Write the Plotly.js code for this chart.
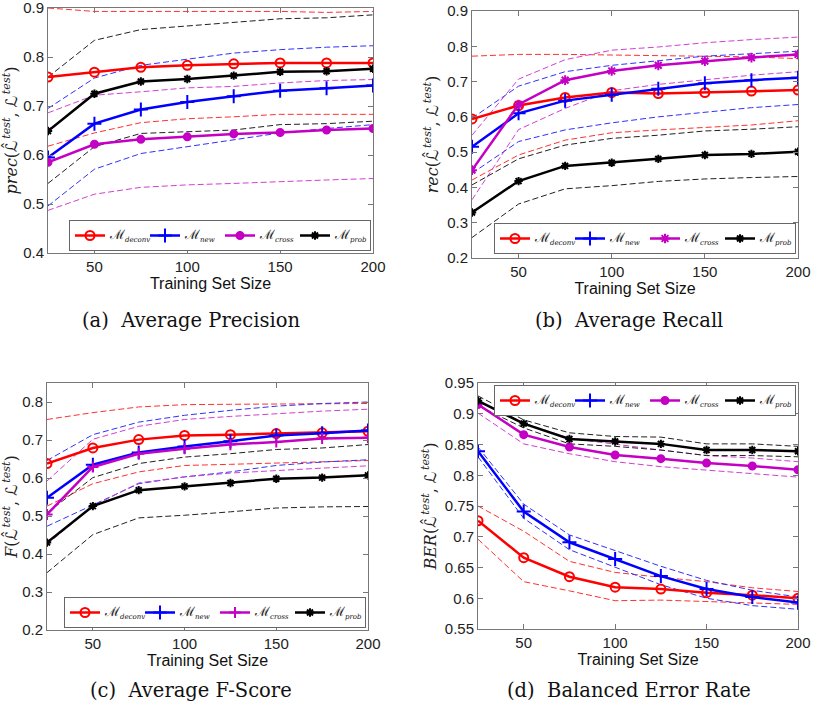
<!DOCTYPE html>
<html>
<head>
<meta charset="utf-8">
<script src="https://cdn.plot.ly/plotly-3.0.1.min.js"></script>
<style>html,body{margin:0;padding:0;background:#fff;}#chart{width:813px;height:706px;}</style>
</head>
<body>
<div id="chart"></div>
<script>
// ---------- DATA ----------
const trainingSizes = [25, 50, 75, 100, 125, 150, 175, 200];
const xTickVals = [50, 100, 150, 200];

// (a) Average Precision
const precDeconv   = [0.759,0.769,0.779,0.783,0.786,0.788,0.788,0.788];
const precDeconvHi = [0.900,0.893,0.893,0.893,0.893,0.893,0.891,0.893];
const precDeconvLo = [0.618,0.645,0.666,0.674,0.678,0.683,0.683,0.683];
const precNew      = [0.595,0.664,0.693,0.708,0.720,0.731,0.736,0.742];
const precNewHi    = [0.695,0.757,0.783,0.796,0.808,0.815,0.820,0.823];
const precNewLo    = [0.496,0.571,0.603,0.617,0.632,0.645,0.654,0.662];
const precCross    = [0.585,0.622,0.632,0.637,0.643,0.646,0.651,0.654];
const precCrossHi  = [0.686,0.722,0.729,0.737,0.740,0.747,0.752,0.754];
const precCrossLo  = [0.487,0.520,0.534,0.539,0.542,0.546,0.549,0.552];
const precProb     = [0.649,0.725,0.750,0.755,0.762,0.770,0.771,0.776];
const precProbHi   = [0.759,0.834,0.856,0.863,0.871,0.878,0.880,0.886];
const precProbLo   = [0.542,0.617,0.644,0.647,0.651,0.662,0.664,0.669];

// (b) Average Recall
const recDeconv   = [0.594,0.632,0.655,0.669,0.666,0.669,0.673,0.676];
const recDeconvHi = [0.772,0.777,0.777,0.775,0.773,0.772,0.770,0.765];
const recDeconvLo = [0.421,0.492,0.534,0.555,0.563,0.569,0.577,0.589];
const recNew      = [0.515,0.610,0.646,0.663,0.680,0.695,0.704,0.711];
const recNewHi    = [0.596,0.687,0.728,0.746,0.759,0.772,0.779,0.786];
const recNewLo    = [0.440,0.530,0.563,0.583,0.600,0.614,0.626,0.635];
const recCross    = [0.449,0.635,0.704,0.730,0.746,0.758,0.768,0.777];
const recCrossHi  = [0.548,0.707,0.762,0.789,0.798,0.810,0.819,0.826];
const recCrossLo  = [0.365,0.564,0.624,0.674,0.692,0.706,0.718,0.728];
const recProb     = [0.329,0.418,0.461,0.470,0.481,0.492,0.495,0.501];
const recProbHi   = [0.407,0.481,0.520,0.539,0.548,0.560,0.565,0.572];
const recProbLo   = [0.258,0.353,0.396,0.405,0.417,0.424,0.428,0.431];

// (c) Average F-Score
const fDeconv   = [0.638,0.679,0.701,0.712,0.714,0.717,0.719,0.723];
const fDeconvHi = [0.754,0.772,0.787,0.793,0.794,0.795,0.796,0.796];
const fDeconvLo = [0.526,0.585,0.616,0.633,0.636,0.639,0.642,0.646];
const fNew      = [0.548,0.635,0.667,0.683,0.697,0.712,0.718,0.725];
const fNewHi    = [0.646,0.714,0.747,0.765,0.778,0.789,0.796,0.800];
const fNewLo    = [0.473,0.530,0.585,0.603,0.616,0.633,0.642,0.648];
const fCross    = [0.504,0.629,0.664,0.677,0.688,0.695,0.704,0.706];
const fCrossHi  = [0.592,0.702,0.736,0.754,0.762,0.769,0.776,0.781];
const fCrossLo  = [0.425,0.526,0.587,0.603,0.613,0.620,0.626,0.632];
const fProb     = [0.430,0.526,0.568,0.578,0.587,0.598,0.601,0.607];
const fProbHi   = [0.508,0.601,0.638,0.655,0.664,0.675,0.679,0.688];
const fProbLo   = [0.351,0.451,0.495,0.502,0.511,0.521,0.524,0.525];

// (d) Balanced Error Rate
const berDeconv   = [0.726,0.666,0.635,0.618,0.615,0.609,0.605,0.600];
const berDeconvHi = [0.750,0.709,0.660,0.642,0.634,0.627,0.617,0.611];
const berDeconvLo = [0.696,0.627,0.612,0.596,0.597,0.595,0.592,0.590];
const berNew      = [0.839,0.741,0.691,0.664,0.636,0.615,0.602,0.593];
const berNewHi    = [0.846,0.753,0.703,0.677,0.652,0.629,0.613,0.602];
const berNewLo    = [0.830,0.730,0.679,0.650,0.622,0.600,0.588,0.582];
const berCross    = [0.915,0.866,0.846,0.833,0.827,0.820,0.815,0.809];
const berCrossHi  = [0.920,0.885,0.860,0.850,0.841,0.832,0.828,0.822];
const berCrossLo  = [0.901,0.851,0.835,0.822,0.814,0.808,0.803,0.797];
const berProb     = [0.921,0.884,0.859,0.855,0.851,0.841,0.841,0.839];
const berProbHi   = [0.929,0.890,0.869,0.863,0.862,0.851,0.851,0.847];
const berProbLo   = [0.913,0.877,0.851,0.847,0.841,0.832,0.832,0.830];

const M = '<span style="font-size:13px">ℳ</span>';
const methodNames = [M + '<sub><i>deconv</i></sub>', M + '<sub><i>new</i></sub>', M + '<sub><i>cross</i></sub>', M + '<sub><i>prob</i></sub>'];
const captions = ['(a)  Average Precision','(b)  Average Recall','(c)  Average F-Score','(d)  Balanced Error Rate'];
const L = '<span style="font-family:DejaVu Sans">ℒ</span>';
const Lhat = '<span style="font-family:DejaVu Sans">ℒ̂</span>';
const argText = '(' + Lhat + '\u200A<sup><i>test</i></sup>, ' + L + '\u200A<sup><i>test</i></sup>)';
const yTitles = ['<i>prec</i>' + argText, '<i>rec</i>' + argText, '<i>F</i>' + argText, '<i>BER</i>' + argText];

// ---------- STYLES ----------
const colors = ['#ff0000','#0000ff','#c400c4','#000000'];
const dashColors = ['#ff3030','#3030ff','#d040d0','#202020'];
const panels = [
  {series:[[precDeconv,precDeconvHi,precDeconvLo],[precNew,precNewHi,precNewLo],[precCross,precCrossHi,precCrossLo],[precProb,precProbHi,precProbLo]],
   crossSym:'circle'},
  {series:[[recDeconv,recDeconvHi,recDeconvLo],[recNew,recNewHi,recNewLo],[recCross,recCrossHi,recCrossLo],[recProb,recProbHi,recProbLo]],
   crossSym:'asterisk-open'},
  {series:[[fDeconv,fDeconvHi,fDeconvLo],[fNew,fNewHi,fNewLo],[fCross,fCrossHi,fCrossLo],[fProb,fProbHi,fProbLo]],
   crossSym:'cross-thin-open'},
  {series:[[berDeconv,berDeconvHi,berDeconvLo],[berNew,berNewHi,berNewLo],[berCross,berCrossHi,berCrossLo],[berProb,berProbHi,berProbLo]],
   crossSym:'circle'}
];
const W = 813, H = 706;
// pixel boxes [left,right,top,bottom]
const boxes = [[48,373,8,253],[472,798,11,258],[47,368,383,630],[478,798,383,629]];
const yRanges = [[0.4,0.9],[0.2,0.9],[0.2,0.85],[0.55,0.95]];
const yTicks = [[0.4,0.5,0.6,0.7,0.8,0.9],[0.2,0.3,0.4,0.5,0.6,0.7,0.8,0.9],[0.2,0.3,0.4,0.5,0.6,0.7,0.8],[0.55,0.6,0.65,0.7,0.75,0.8,0.85,0.9,0.95]];
const legendBoxes = [[371,251],[796,254],[366,628],[796,385]]; // right x, anchor y
const legendAnchorY = ['bottom','bottom','bottom','top'];

const traces = [];
const layout = {
  width: W, height: H, margin:{l:0,r:0,t:0,b:0, autoexpand:false},
  paper_bgcolor:'#fff', plot_bgcolor:'#fff',
  font:{family:'Liberation Sans, Arial, sans-serif', size:14, color:'#222'},
  annotations: [], showlegend: true
};

panels.forEach((p, i) => {
  const ax = i === 0 ? '' : String(i+1);
  const xa = 'x' + ax, ya = 'y' + ax;
  const legendId = i === 0 ? 'legend' : 'legend' + (i+1);
  // dashed bands
  p.series.forEach((s, k) => {
    [1,2].forEach(j => {
      traces.push({x: trainingSizes, y: s[j], xaxis: xa, yaxis: ya, mode:'lines', type:'scatter',
        line:{color: dashColors[k], width:1, dash:'6px,3px'}, showlegend:false, hoverinfo:'skip', legend: legendId});
    });
  });
  // solid series
  const syms = ['circle-open','cross-thin-open', p.crossSym, 'asterisk-open'];
  const sizes = [9, 10, p.crossSym === 'circle' ? 7 : 8, 7];
  p.series.forEach((s, k) => {
    traces.push({x: trainingSizes, y: s[0], xaxis: xa, yaxis: ya, mode:'lines+markers', type:'scatter',
      name: methodNames[k], legend: legendId,
      line:{color: colors[k], width:2.5},
      marker:{symbol: syms[k], size: sizes[k], color: colors[k], line:{color: colors[k], width: 2}}});
  });
  const b = boxes[i];
  const common = {showgrid:false, zeroline:false, showline:true, linecolor:'#777', linewidth:1, mirror:'ticks',
    ticks:'inside', ticklen:5, tickcolor:'#777', ticklabeloverflow:'allow', automargin:false,
    tickfont:{family:'Liberation Sans, Arial, sans-serif', size:15, color:'#222'}};
  layout['xaxis' + ax] = Object.assign({}, common, {
    domain:[b[0]/W, b[1]/W], anchor: ya, range:[25,200], tickvals: xTickVals, ticktext: xTickVals.map(String),
    title:{text:'Training Set Size', font:{family:'Liberation Sans, Arial, sans-serif', size:16, color:'#111'}, standoff:2}
  });
  layout['yaxis' + ax] = Object.assign({}, common, {
    domain:[1 - b[3]/H, 1 - b[2]/H], anchor: xa, range: yRanges[i], tickvals: yTicks[i],
    ticktext: yTicks[i].map(v => String(+v.toFixed(2))),
    title:{text: yTitles[i], font:{family:'DejaVu Serif, serif', size:16, color:'#222'}, standoff:4}
  });
  layout[legendId] = {
    orientation:'h', x: legendBoxes[i][0]/W, xanchor:'right', y: 1 - legendBoxes[i][1]/H, yanchor: legendAnchorY[i],
    bgcolor:'#fff', bordercolor:'#666', borderwidth:1, itemwidth:30, tracegroupgap:0,
    entrywidth: 30, entrywidthmode: 'pixels',
    font:{family:'DejaVu Serif, serif', size:10, color:'#111'}
  };
  layout.annotations.push({text: captions[i], xref:'paper', yref:'paper', showarrow:false,
    x: (i % 2 === 0 ? 191 : 629)/W, y: 1 - (i < 2 ? 320 : 690)/H, xanchor:'center', yanchor:'middle',
    font:{family:'DejaVu Serif, serif', size:19.5, color:'#111'}});
});

Plotly.newPlot('chart', traces, layout, {staticPlot:true, displayModeBar:false});
</script>
</body>
</html>
